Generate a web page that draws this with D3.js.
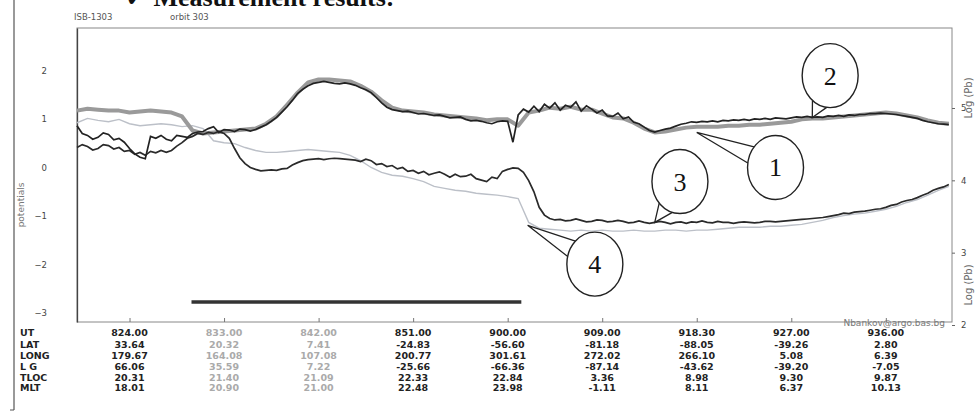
<!DOCTYPE html>
<html><head><meta charset="utf-8">
<script src="https://cdn.jsdelivr.net/npm/d3@7"></script>
<style>body{margin:0;background:#fff}svg{display:block}</style>
</head><body><svg id="c" width="979" height="416"></svg>
<script>
// ---- data ----
// UT in minutes after midnight (8:19 ... 9:42) for the smoother curves
const ut = [499,500,501,502,503,504,505,506,507,508,
            509,510,511,512,513,514,515,516,517,518,
            519,520,521,522,523,524,525,526,527,528,
            529,530,531,532,533,534,535,536,537,538,
            539,540,541,542,543,544,545,546,547,548,
            549,550,551,552,553,554,555,556,557,558,
            559,560,561,562,563,564,565,566,567,568,
            569,570,571,572,573,574,575,576,577,578,
            579,580,581,582];
// curve 1 (grey, thick)
const curve1 = [1.17,1.21,1.19,1.17,1.17,1.13,1.15,1.17,1.15,1.13,
                1.05,0.76,0.70,0.72,0.74,0.76,0.78,0.80,0.90,1.05,
                1.29,1.54,1.75,1.81,1.81,1.79,1.77,1.68,1.56,1.38,
                1.23,1.17,1.15,1.13,1.09,1.07,1.05,1.03,1.01,0.97,
                0.99,0.99,0.86,1.13,1.17,1.23,1.21,1.25,1.19,1.19,
                1.11,1.03,1.01,0.92,0.80,0.72,0.74,0.78,0.82,0.84,
                0.84,0.84,0.86,0.86,0.88,0.88,0.90,0.92,0.94,0.99,
                1.01,1.01,1.03,1.05,1.07,1.09,1.11,1.13,1.11,1.07,
                1.03,0.97,0.92,0.90];
// curve 4 (light grey)
const curve4 = [0.92,1.01,0.97,0.94,0.99,0.90,0.86,0.88,0.90,0.88,
                0.84,0.86,0.80,0.55,0.51,0.49,0.41,0.35,0.31,0.31,
                0.33,0.35,0.37,0.35,0.33,0.31,0.25,0.14,0.00,-0.10,
                -0.16,-0.18,-0.23,-0.29,-0.39,-0.43,-0.47,-0.49,-0.53,-0.55,
                -0.57,-0.60,-0.64,-1.13,-1.25,-1.27,-1.29,-1.31,-1.29,-1.31,
                -1.29,-1.31,-1.31,-1.29,-1.31,-1.31,-1.29,-1.29,-1.31,-1.29,
                -1.29,-1.27,-1.25,-1.23,-1.23,-1.23,-1.21,-1.21,-1.19,-1.17,
                -1.13,-1.09,-1.03,-0.99,-0.96,-0.94,-0.90,-0.86,-0.80,-0.72,
                -0.66,-0.57,-0.47,-0.39];
// curve 2 (black, upper) as [UT minute, value], half-minute samples
const curve2 = [
 [499,0.86],[499.5,0.70],[500,0.66],[500.5,0.58],[501,0.62],[501.5,0.71],[502,0.68],[502.5,0.57],
 [503,0.60],[503.5,0.52],[504,0.39],[504.5,0.28],[505,0.21],[505.5,0.18],[506,0.64],[506.5,0.60],
 [507,0.66],[507.5,0.58],[508,0.55],[508.5,0.66],[509,0.64],[509.5,0.62],[510,0.70],[510.5,0.73],
 [511,0.74],[511.5,0.80],[512,0.84],[512.5,0.72],[513,0.78],[513.5,0.77],[514,0.74],[514.5,0.79],
 [515,0.78],[515.5,0.75],[516,0.78],[516.5,0.83],[517,0.88],[517.5,0.95],[518,1.03],[518.5,1.14],
 [519,1.25],[519.5,1.38],[520,1.52],[520.5,1.61],[521,1.68],[521.5,1.73],[522,1.75],[522.5,1.77],
 [523,1.75],[523.5,1.73],[524,1.72],[524.5,1.74],[525,1.72],[525.5,1.69],[526,1.64],[526.5,1.60],
 [527,1.54],[527.5,1.44],[528,1.33],[528.5,1.24],[529,1.19],[529.5,1.17],[530,1.15],[530.5,1.16],
 [531,1.13],[531.5,1.10],[532,1.11],[532.5,1.09],[533,1.07],[533.5,1.08],[534,1.05],[534.5,1.02],
 [535,1.03],[535.5,1.04],[536,0.99],[536.5,0.96],[537,0.97],[537.5,0.95],[538,0.92],[538.5,0.90],
 [539,0.94],[539.5,0.96],[540,0.95],[540.5,0.52],[541,1.08],[541.5,1.20],[542,1.14],[542.5,1.26],
 [543,1.15],[543.5,1.30],[544,1.22],[544.5,1.33],[545,1.18],[545.5,1.28],[546,1.24],[546.5,1.35],
 [547,1.16],[547.5,1.27],[548,1.20],[548.5,1.12],[549,1.18],[549.5,1.06],[550,1.05],[550.5,1.12],
 [551,1.00],[551.5,1.04],[552,0.93],[552.5,0.90],[553,0.83],[553.5,0.76],[554,0.73],[554.5,0.76],
 [555,0.79],[555.5,0.81],[556,0.85],[556.5,0.89],[557,0.91],[557.5,0.94],[558,0.93],[558.5,0.95],
 [559,0.94],[559.5,0.96],[560,0.94],[560.5,0.97],[561,0.96],[561.5,0.98],[562,0.97],[562.5,0.99],
 [563,0.97],[563.5,1.00],[564,0.99],[564.5,1.01],[565,0.99],[565.5,1.02],[566,1.01],[566.5,1.00],
 [567,1.02],[567.5,1.04],[568,1.03],[568.5,1.05],[569,1.03],[569.5,1.04],[570,1.03],[570.5,1.06],
 [571,1.05],[571.5,1.07],[572,1.05],[572.5,1.08],[573,1.07],[573.5,1.09],[574,1.09],[574.5,1.11],
 [575,1.11],[575.5,1.12],[576,1.11],[576.5,1.10],[577,1.09],[577.5,1.07],[578,1.05],[578.5,1.03],
 [579,1.01],[579.5,0.97],[580,0.94],[580.5,0.92],[581,0.90],[581.5,0.89],[582,0.88]];
// curve 3 (black, lower) as [UT minute, value]
const curve3 = [
 [499,0.41],[499.5,0.47],[500,0.43],[500.5,0.36],[501,0.39],[501.5,0.47],[502,0.45],[502.5,0.38],
 [503,0.41],[503.5,0.33],[504,0.35],[504.5,0.27],[505,0.31],[505.5,0.25],[506,0.33],[506.5,0.30],
 [507,0.35],[507.5,0.31],[508,0.35],[508.5,0.44],[509,0.51],[509.5,0.60],[510,0.64],[510.5,0.70],
 [511,0.68],[511.5,0.72],[512,0.70],[512.5,0.74],[513,0.70],[513.5,0.60],[514,0.39],[514.5,0.20],
 [515,0.08],[515.5,0.00],[516,-0.04],[516.5,-0.07],[517,-0.06],[517.5,-0.05],[518,-0.06],[518.5,-0.03],
 [519,-0.02],[519.5,0.05],[520,0.10],[520.5,0.14],[521,0.16],[521.5,0.17],[522,0.18],[522.5,0.16],
 [523,0.18],[523.5,0.19],[524,0.18],[524.5,0.17],[525,0.16],[525.5,0.15],[526,0.12],[526.5,0.17],
 [527,0.14],[527.5,0.06],[528,0.08],[528.5,0.02],[529,0.04],[529.5,-0.03],[530,0.00],[530.5,-0.08],
 [531,-0.06],[531.5,-0.12],[532,-0.08],[532.5,-0.15],[533,-0.12],[533.5,-0.09],[534,-0.14],[534.5,-0.20],
 [535,-0.14],[535.5,-0.19],[536,-0.18],[536.5,-0.14],[537,-0.23],[537.5,-0.26],[538,-0.29],[538.5,-0.20],
 [539,-0.23],[539.5,-0.08],[540,-0.04],[540.5,-0.01],[541,-0.02],[541.5,-0.10],[542,-0.27],[542.5,-0.50],
 [543,-0.82],[543.5,-0.98],[544,-1.05],[544.5,-1.08],[545,-1.07],[545.5,-1.10],[546,-1.09],[546.5,-1.06],
 [547,-1.09],[547.5,-1.12],[548,-1.11],[548.5,-1.08],[549,-1.09],[549.5,-1.12],[550,-1.11],[550.5,-1.09],
 [551,-1.11],[551.5,-1.14],[552,-1.13],[552.5,-1.10],[553,-1.13],[553.5,-1.15],[554,-1.13],[554.5,-1.11],
 [555,-1.13],[555.5,-1.16],[556,-1.13],[556.5,-1.12],[557,-1.15],[557.5,-1.12],[558,-1.13],[558.5,-1.10],
 [559,-1.13],[559.5,-1.14],[560,-1.11],[560.5,-1.13],[561,-1.13],[561.5,-1.15],[562,-1.13],[562.5,-1.12],
 [563,-1.13],[563.5,-1.14],[564,-1.13],[564.5,-1.11],[565,-1.11],[565.5,-1.12],[566,-1.11],[566.5,-1.10],
 [567,-1.09],[567.5,-1.08],[568,-1.07],[568.5,-1.06],[569,-1.05],[569.5,-1.04],[570,-1.03],[570.5,-1.01],
 [571,-0.99],[571.5,-0.97],[572,-0.94],[572.5,-0.95],[573,-0.92],[573.5,-0.91],[574,-0.90],[574.5,-0.88],
 [575,-0.86],[575.5,-0.85],[576,-0.82],[576.5,-0.78],[577,-0.76],[577.5,-0.71],[578,-0.68],[578.5,-0.66],
 [579,-0.62],[579.5,-0.57],[580,-0.53],[580.5,-0.47],[581,-0.43],[581.5,-0.40],[582,-0.35]];
// eclipse / shadow bar (start, end UT minutes; level)
const barUT = [509.9, 541.3];
const barLevel = -2.77;

const leftTicks = [2, 1, 0, -1, -2, -3];
const rightTicks = [5, 4, 3, 2];

const colUT = [504, 513, 522, 531, 540, 549, 558, 567, 576];
const rowNames = ["UT", "LAT", "LONG", "L G", "TLOC", "MLT"];
const rowUT   = ["824.00","833.00","842.00","851.00","900.00","909.00","918.30","927.00","936.00"];
const rowLAT  = ["33.64","20.32","7.41","-24.83","-56.60","-81.18","-88.05","-39.26","2.80"];
const rowLONG = ["179.67","164.08","107.08","200.77","301.61","272.02","266.10","5.08","6.39"];
const rowLG   = ["66.06","35.59","7.22","-25.66","-66.36","-87.14","-43.62","-39.20","-7.05"];
const rowTLOC = ["20.31","21.40","21.09","22.33","22.84","3.36","8.98","9.30","9.87"];
const rowMLT  = ["18.01","20.90","21.00","22.48","23.98","-1.11","8.11","6.37","10.13"];

// callouts: label, bubble centre (UT, value), tip (UT, value)
const callouts = [
  {label:"2", c:[570.7, 1.89], tip:[569.0, 1.03]},
  {label:"1", c:[565.5, 0.00], tip:[558.0, 0.72]},
  {label:"3", c:[556.4, -0.29], tip:[554.0, -1.13]},
  {label:"4", c:[548.3, -1.99], tip:[541.9, -1.19]}
];

// ---- drawing ----
const svg = d3.select("#c");
const L = 77, R = 952, T = 28, B = 322;
const x = d3.scaleLinear().domain([499, 582.3]).range([L, R]);
const y = d3.scaleLinear().domain([-3.18, 2.87]).range([B, T]);
const yR = d3.scaleLinear().domain([2, 5]).range([325, 108]);

// page edge line of the scan
svg.append("line").attr("x1",14).attr("x2",14).attr("y1",0).attr("y2",410).attr("stroke","#555").attr("stroke-width",1.2);
svg.append("line").attr("x1",10).attr("x2",14).attr("y1",410).attr("y2",410).attr("stroke","#555");

// header (cut off at the top, as in the scan)
svg.append("text").attr("x",125).attr("y",6).attr("font-family","Liberation Serif").attr("font-weight","bold")
  .attr("font-size",26).attr("fill","#111").text("✓  Measurement results:");

svg.append("text").attr("x",74).attr("y",20).attr("font-family","DejaVu Sans").attr("font-size",8.5).attr("fill","#555").text("ISB-1303");
svg.append("text").attr("x",170).attr("y",20).attr("font-family","DejaVu Sans").attr("font-size",8.5).attr("fill","#555").text("orbit 303");

// frame
svg.append("rect").attr("x",L).attr("y",T).attr("width",R-L).attr("height",B-T)
  .attr("fill","none").attr("stroke","#888").attr("stroke-width",1);

// left axis
const gl = svg.append("g").attr("transform",`translate(${L},0)`)
  .call(d3.axisLeft(y).tickValues(leftTicks).tickSize(0).tickPadding(30).tickFormat(d3.format("d")));
gl.select(".domain").attr("stroke","#444").attr("stroke-width",1.3);
gl.selectAll("text").attr("font-family","DejaVu Sans").attr("font-size",8.5).attr("fill","#444");

// right axis
const gr = svg.append("g").attr("transform",`translate(${R},0)`)
  .call(d3.axisRight(yR).tickValues(rightTicks).tickSizeInner(3).tickSizeOuter(0).tickPadding(6).tickFormat(d3.format("d")));
gr.select(".domain").remove();
gr.selectAll("line").attr("stroke","#666");
gr.selectAll("text").attr("font-family","DejaVu Sans").attr("font-size",8.5).attr("fill","#444");

// bottom ticks
const gb = svg.append("g").attr("transform",`translate(0,${B})`)
  .call(d3.axisBottom(x).tickValues(colUT).tickSize(-4).tickFormat(""));
gb.select(".domain").remove();
gb.selectAll("line").attr("stroke","#777");

// axis titles
svg.append("text").attr("transform","translate(24,205) rotate(-90)").attr("text-anchor","middle")
  .attr("font-family","DejaVu Sans").attr("font-size",9).attr("fill","#777").text("potentials");
svg.append("text").attr("transform","translate(972,98) rotate(-90)").attr("text-anchor","middle")
  .attr("font-family","DejaVu Sans").attr("font-size",10).attr("fill","#666").text("Log (Pb)");
svg.append("text").attr("transform","translate(972,285) rotate(-90)").attr("text-anchor","middle")
  .attr("font-family","DejaVu Sans").attr("font-size",10).attr("fill","#666").text("Log (Pb)");

// curves
const lineIdx = d3.line().x((d,i)=>x(ut[i])).y(d=>y(d));
const linePair = d3.line().x(d=>x(d[0])).y(d=>y(d[1]));
const plot = svg.append("g");
plot.append("path").datum(curve4).attr("d",lineIdx).attr("fill","none").attr("stroke","#bcc0c8").attr("stroke-width",1.4);
plot.append("path").datum(curve1).attr("d",lineIdx).attr("fill","none").attr("stroke","#9a9a9a").attr("stroke-width",4).attr("stroke-linejoin","round");
plot.append("path").datum(curve3).attr("d",linePair).attr("fill","none").attr("stroke","#2a2a2a").attr("stroke-width",1.7);
plot.append("path").datum(curve2).attr("d",linePair).attr("fill","none").attr("stroke","#222").attr("stroke-width",1.7);

// bar
svg.append("line").attr("x1",x(barUT[0])).attr("x2",x(barUT[1])).attr("y1",y(barLevel)).attr("y2",y(barLevel))
  .attr("stroke","#333").attr("stroke-width",3.5);

// email
svg.append("text").attr("x",945).attr("y",326).attr("text-anchor","end").attr("font-family","DejaVu Sans")
  .attr("font-size",9).attr("fill","#777").text("Nbankov@argo.bas.bg");

// callouts
callouts.forEach(c => {
  const cx = x(c.c[0]), cy = y(c.c[1]), tx = x(c.tip[0]), ty = y(c.tip[1]);
  const ang = Math.atan2(ty-cy, tx-cx);
  const rx = 28, ry = 32;
  const p = a => [cx + rx*Math.cos(a), cy + ry*Math.sin(a)];
  const b1 = p(ang-0.28), b2 = p(ang+0.28);
  svg.append("path").attr("d",`M${b1[0]},${b1[1]}L${tx},${ty}L${b2[0]},${b2[1]}`)
    .attr("fill","#fff").attr("stroke","#222").attr("stroke-width",1.3);
  svg.append("ellipse").attr("cx",cx).attr("cy",cy).attr("rx",rx).attr("ry",ry)
    .attr("fill","#fff").attr("stroke","#222").attr("stroke-width",1.4);
  svg.append("text").attr("x",cx).attr("y",cy+9).attr("text-anchor","middle")
    .attr("font-family","Liberation Serif").attr("font-size",26).attr("fill","#111").text(c.label);
});

// table
const rows = [rowUT,rowLAT,rowLONG,rowLG,rowTLOC,rowMLT];
const rowY = [336,348,359,370,381,391];
rowNames.forEach((n,i)=>{
  svg.append("text").attr("x",20).attr("y",rowY[i]).attr("font-family","DejaVu Sans").attr("font-weight","bold")
    .attr("font-size",9.5).attr("fill","#222").text(n);
  rows[i].forEach((v,j)=>{
    svg.append("text").attr("x",x(colUT[j])).attr("y",rowY[i]).attr("text-anchor","middle")
      .attr("font-family","DejaVu Sans").attr("font-weight","bold").attr("font-size",9.5)
      .attr("fill", (j===1||j===2) ? "#aaa" : "#222").text(v);
  });
});
</script></body></html>
